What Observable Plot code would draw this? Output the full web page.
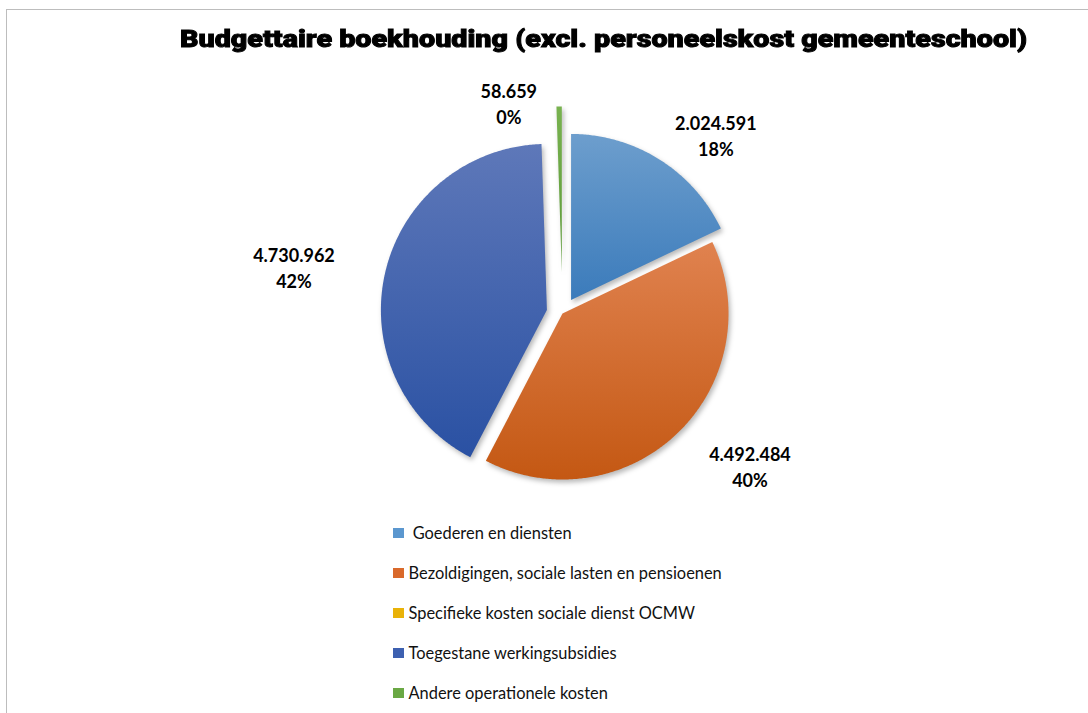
<!DOCTYPE html>
<html><head><meta charset="utf-8">
<script src="https://cdn.jsdelivr.net/npm/d3@7"></script>
<script src="https://cdn.jsdelivr.net/npm/@observablehq/plot@0.6"></script>
<style>
body{margin:0;background:#fff;}
#wrap{position:relative;width:1088px;height:713px;overflow:hidden;background:#fff;}
#frame{position:absolute;left:6px;top:9px;width:1200px;height:800px;border-left:1px solid #bdbdbd;border-top:1px solid #bdbdbd;}
#title{position:absolute;left:180px;top:28px;font-family:Roboto,"DejaVu Sans",sans-serif;font-weight:900;font-size:23.5px;line-height:23.5px;white-space:nowrap;transform-origin:0 0;color:#000;-webkit-text-stroke:0.9px #000;}
#chart{position:absolute;left:0;top:0;}
#chart g[aria-label="line"] path{filter:drop-shadow(2px 3px 2.5px rgba(0,0,0,0.28));}
</style></head>
<body><div id="wrap"><div id="frame"></div><div id="title">Budgettaire boekhouding (excl. personeelskost gemeenteschool)</div><div id="chart"></div></div>
<script>
// ---- data ----
const categories = ["Goederen en diensten", "Bezoldigingen, sociale lasten en pensioenen", "Specifieke kosten sociale dienst OCMW", "Toegestane werkingsubsidies", "Andere operationele kosten"];
const values = [2024591, 4492484, 0, 4730962, 58659];

// ---- styles ----
const gradTop = ["#6d9ecd", "#e0824f", "#f2c02a", "#5e78b9", "#78b24f"];
const gradBottom = ["#3b7bbb", "#c45813", "#dca800", "#2a51a3", "#5b9838"];
const swatch = ["#5b97cf", "#d9692b", "#e9b208", "#3d60b0", "#6aa844"];
const explode = [16, 0, 0, 16, 41];
const cx = 562, cy = 313, R = 166;
const labelFont = "bold 18px Lato, 'Open Sans', sans-serif";

const nl = d3.formatLocale({decimal: ",", thousands: ".", grouping: [3], currency: ["€", ""]});
const fmt = nl.format(",d");

// percentages with largest remainder (as in the spreadsheet labels)
const total = d3.sum(values);
const raw = values.map(v => v / total * 100);
const pct = raw.map(Math.floor);
let rest = 100 - d3.sum(pct);
const order = d3.range(values.length).sort((a, b) => (raw[b] - pct[b]) - (raw[a] - pct[a]));
for (const i of order) { if (rest <= 0) break; if (values[i] > 0) { pct[i]++; rest--; } }

const ctx = document.createElement("canvas").getContext("2d");
ctx.font = labelFont;

const arcs = d3.pie().sort(null).value(d => d)(values);

const piePts = [];
const labels = [];
arcs.forEach((a, i) => {
  if (!(values[i] > 0)) return;
  const m = (a.startAngle + a.endAngle) / 2;
  const ox = explode[i] * Math.sin(m), oy = -explode[i] * Math.cos(m);
  const ax = cx + ox, ay = cy + oy;
  const key = "s" + i, fill = `url(#grad${i})`;
  piePts.push({key, fill, x: ax, y: ay});
  const n = Math.max(2, Math.ceil((a.endAngle - a.startAngle) / (Math.PI / 360)));
  for (let k = 0; k <= n; k++) {
    const t = a.startAngle + (a.endAngle - a.startAngle) * k / n;
    piePts.push({key, fill, x: ax + R * Math.sin(t), y: ay - R * Math.cos(t)});
  }
  piePts.push({key, fill, x: ax, y: ay});
  const rl = R + 45;
  const s = Math.sin(m);
  const line1 = fmt(values[i]);
  const w = ctx.measureText(line1).width;
  const px = cx + rl * s;
  labels.push({
    x: s > 0 ? px + w / 2 : px - 22 - w / 2,
    y: cy - rl * Math.cos(m),
    text: line1 + "\n" + pct[i] + "%"
  });
});

const legend = categories.map((c, i) => ({
  name: (i === 0 ? "\u00a0" : "") + c, color: swatch[i], yc: 533 + i * 40
}));

const chart = Plot.plot({
  width: 1088, height: 713, margin: 0,
  x: {type: "identity", axis: null}, y: {type: "identity", axis: null}, color: {type: "identity"},
  style: {background: "transparent", overflow: "visible"},
  marks: [
    Plot.line(piePts, {x: "x", y: "y", z: "key", fill: "fill", stroke: "none", curve: "linear"}),
    Plot.text(labels, {x: "x", y: "y", text: "text", textAnchor: "middle", lineHeight: 1.45,
      fontSize: 18, fontWeight: "bold", fontFamily: "Lato, 'Open Sans', sans-serif", fill: "#000"}),
    Plot.rect(legend, {x1: () => 393, x2: () => 404, y1: d => d.yc - 5, y2: d => d.yc + 5, fill: "color"}),
    Plot.text(legend, {x: () => 408, y: "yc", text: "name", textAnchor: "start", fontSize: 16.4,
      fontFamily: "Lato, 'Open Sans', sans-serif", fill: "#111"})
  ]
});

// gradients
const ns = "http://www.w3.org/2000/svg";
const defs = document.createElementNS(ns, "defs");
categories.forEach((c, i) => {
  const g = document.createElementNS(ns, "linearGradient");
  g.setAttribute("id", "grad" + i);
  g.setAttribute("x1", "0"); g.setAttribute("y1", "0"); g.setAttribute("x2", "0"); g.setAttribute("y2", "1");
  [[0, gradTop[i]], [1, gradBottom[i]]].forEach(([o, col]) => {
    const st = document.createElementNS(ns, "stop");
    st.setAttribute("offset", o); st.setAttribute("stop-color", col);
    g.appendChild(st);
  });
  defs.appendChild(g);
});
chart.insertBefore(defs, chart.firstChild);
document.getElementById("chart").appendChild(chart);

// fit title to reference width
function fitTitle() {
  const t = document.getElementById("title");
  t.style.transform = "none";
  const w = t.getBoundingClientRect().width;
  t.style.transform = `scaleX(${847 / w})`;
}
fitTitle();
if (document.fonts) document.fonts.ready.then(fitTitle);
</script>
</body></html>
